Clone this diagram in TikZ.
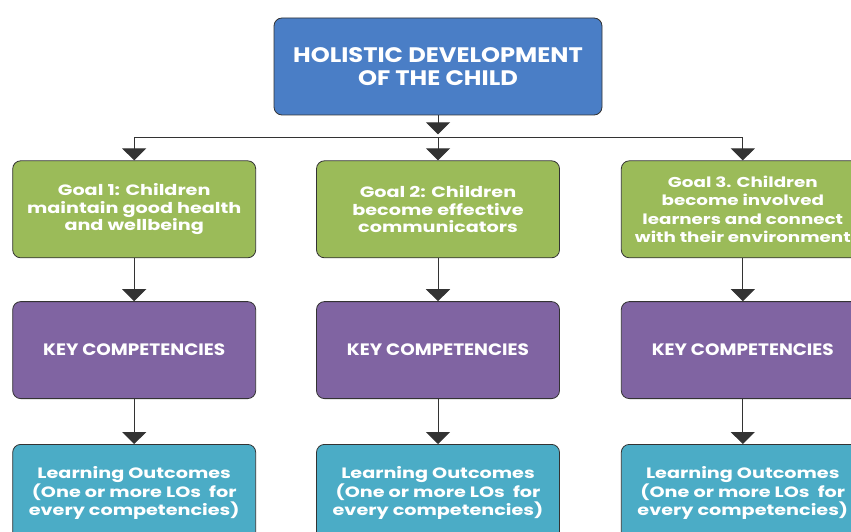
\documentclass[tikz,border=0pt]{standalone}
\usepackage{fontspec}
\setmainfont{Poppins}
\newfontfamily\headfont{Poppins}[FakeStretch=1.15]
\newfontfamily\keyfont{Poppins}[FakeStretch=1.12]
\newfontfamily\boxfont{Poppins}[FakeStretch=1.28]
\usetikzlibrary{positioning,arrows.meta}
\definecolor{headblue}{HTML}{4A7EC6}
\definecolor{goalgreen}{HTML}{9BBB59}
\definecolor{keypurple}{HTML}{8064A2}
\definecolor{outaqua}{HTML}{4BACC6}
\definecolor{edge}{HTML}{333333}
\tikzset{
  box/.style={draw=edge, line width=0.8pt, rounded corners=8pt, text=white, align=center, inner sep=2pt, minimum width=243pt, minimum height=97pt, font=\boxfont\fontsize{15}{17.5}\selectfont\bfseries},
  headbox/.style={box, fill=headblue, minimum width=328pt, font=\headfont\fontsize{21}{23}\selectfont\bfseries},
  goalbox/.style={box, fill=goalgreen},
  keybox/.style={box, fill=keypurple, font=\keyfont\fontsize{16.5}{18}\selectfont\bfseries},
  outbox/.style={box, fill=outaqua},
  arr/.style={draw=edge, line width=1pt, -{Triangle[width=24pt,length=12pt]}}
}
\begin{document}
\begin{tikzpicture}[x=1pt,y=1pt]
\useasboundingbox (0,0) rectangle (851,531);
%the top box
\node[headbox] (child) at (438,464.5) {HOLISTIC DEVELOPMENT\\OF THE CHILD};
%the goals
\node[goalbox, below=45pt of child] (goal2) {Goal 2: Children\\become effective\\communicators};
\node[goalbox, left=60pt of goal2] (goal1) {Goal 1: Children\\maintain good health\\and wellbeing};
\node[goalbox, right=61pt of goal2, font=\boxfont\fontsize{14.3}{18.3}\selectfont\bfseries] (goal3) {Goal 3. Children\\become involved\\learners and connect\\with their environment};
%the competencies
\node[keybox, below=43pt of goal1] (key1) {KEY COMPETENCIES};
\node[keybox, below=43pt of goal2] (key2) {KEY COMPETENCIES};
\node[keybox, below=43pt of goal3] (key3) {KEY COMPETENCIES};
%the learning outcomes
\node[outbox, below=45pt of key1] (lo1) {Learning Outcomes\\(One or more LOs~ for\\every competencies)};
\node[outbox, below=45pt of key2] (lo2) {Learning Outcomes\\(One or more LOs~ for\\every competencies)};
\node[outbox, below=45pt of key3] (lo3) {Learning Outcomes\\(One or more LOs~ for\\every competencies)};
%the connectors
\coordinate[below=22pt of child.south] (bar);
\draw[arr, shorten >=3pt] (child) -- (bar);
\draw[draw=edge, line width=1pt] (goal1.north |- bar) -- (goal3.north |- bar);
\draw[arr] (bar) -- (goal2);
\draw[arr] (goal1.north |- bar) -- (goal1);
\draw[arr] (goal3.north |- bar) -- (goal3);
\draw[arr] (goal1) -- (key1);
\draw[arr] (goal2) -- (key2);
\draw[arr] (goal3) -- (key3);
\draw[arr] (key1) -- (lo1);
\draw[arr] (key2) -- (lo2);
\draw[arr] (key3) -- (lo3);
\end{tikzpicture}
\end{document}
